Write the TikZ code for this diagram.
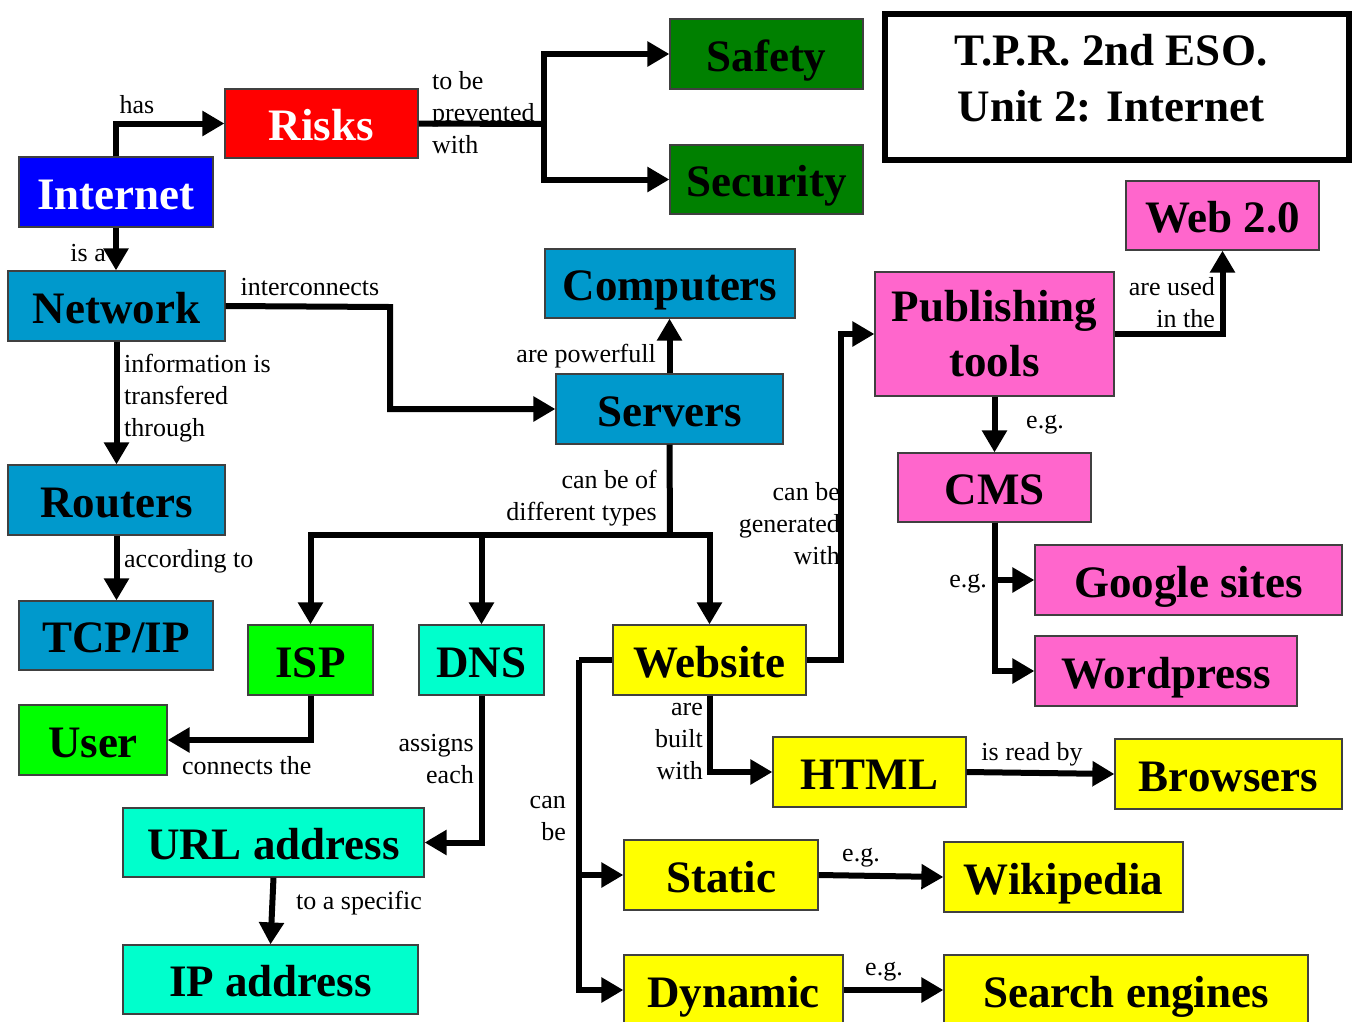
\documentclass[tikz,border=0pt]{standalone}
\usepackage{fontspec}
\setmainfont{Liberation Serif}
\usetikzlibrary{arrows.meta}
\definecolor{cBlue}{RGB}{0,0,255}
\definecolor{cRed}{RGB}{255,0,0}
\definecolor{cDkGreen}{RGB}{0,128,0}
\definecolor{cSea}{RGB}{0,153,204}
\definecolor{cPink}{RGB}{255,102,204}
\definecolor{cGreen}{RGB}{0,255,0}
\definecolor{cAqua}{RGB}{0,255,204}
\definecolor{cYellow}{RGB}{255,255,0}
\tikzset{
  boxbase/.style={draw=black!75, line width=1.2pt, inner sep=0pt, align=center,
    font=\bfseries\fontsize{45}{55}\selectfont},
  box/.style={boxbase, text height=34pt, text depth=0pt},
  lbl/.style={inner sep=0pt, yshift=-2pt, font=\fontsize{26}{32}\selectfont},
  link/.style={line width=6pt},
  arrow/.style={line width=6pt, -{Triangle[length=22pt,width=24pt]}}
}
\begin{document}
\begin{tikzpicture}[x=1pt,y=-1pt]
\useasboundingbox (0,0) rectangle (1359,1021);

% concept boxes
\node[box, fill=cBlue, text=white, minimum width=194pt, minimum height=70pt] (internet) at (116,192) {Internet};
\node[box, fill=cRed, text=white, minimum width=193pt, minimum height=69pt] (risks) at (321.5,123.5) {Risks};
\node[box, fill=cDkGreen, minimum width=193pt, minimum height=70pt] (safety) at (766.5,54) {Safety};
\node[box, fill=cDkGreen, minimum width=193pt, minimum height=69pt] (security) at (766.5,179.5) {Security};
\node[draw=black, line width=6pt, minimum width=464pt, minimum height=146pt] (title) at (1117,87) {};
\node[inner sep=0pt, align=center, font=\bfseries\fontsize{45}{56}\selectfont] (titletext) at (1111,78) {T.P.R. 2nd ESO.\\Unit 2: Internet};
\node[box, fill=cPink, minimum width=193pt, minimum height=69pt] (web) at (1222.5,215.5) {Web 2.0};
\node[box, fill=cSea, minimum width=217pt, minimum height=70pt] (network) at (116.5,306) {Network};
\node[box, fill=cSea, minimum width=250pt, minimum height=69pt] (computers) at (670,283.5) {Computers};
\node[boxbase, fill=cPink, minimum width=239pt, minimum height=124pt] (pub) at (994.5,334) {Publishing\\tools};
\node[box, fill=cSea, minimum width=227pt, minimum height=70pt] (servers) at (669.5,409) {Servers};
\node[box, fill=cPink, minimum width=193pt, minimum height=69pt] (cms) at (994.5,487.5) {CMS};
\node[box, fill=cSea, minimum width=217pt, minimum height=70pt] (routers) at (116.5,500) {Routers};
\node[box, fill=cSea, minimum width=194pt, minimum height=69pt] (tcp) at (116,635.5) {TCP/IP};
\node[box, fill=cGreen, minimum width=125pt, minimum height=70pt] (isp) at (310.5,660) {ISP};
\node[box, fill=cAqua, minimum width=125pt, minimum height=70pt] (dns) at (481.5,660) {DNS};
\node[box, fill=cYellow, minimum width=193pt, minimum height=70pt] (website) at (709.5,660) {Website};
\node[box, fill=cPink, minimum width=307pt, minimum height=70pt] (google) at (1188.5,580) {Google sites};
\node[box, fill=cPink, minimum width=262pt, minimum height=70pt] (wordpress) at (1166,671) {Wordpress};
\node[box, fill=cGreen, minimum width=148pt, minimum height=70pt] (user) at (93,740) {User};
\node[box, fill=cYellow, minimum width=193pt, minimum height=70pt] (html) at (869.5,772) {HTML};
\node[box, fill=cYellow, minimum width=227pt, minimum height=70pt] (browsers) at (1228.5,774) {Browsers};
\node[box, fill=cAqua, minimum width=301pt, minimum height=69pt] (url) at (273.5,842.5) {URL address};
\node[box, fill=cYellow, minimum width=194pt, minimum height=70pt] (static) at (721,875) {Static};
\node[box, fill=cYellow, minimum width=239pt, minimum height=70pt] (wiki) at (1063.5,877) {Wikipedia};
\node[box, fill=cAqua, minimum width=295pt, minimum height=69pt] (ip) at (270.5,979.5) {IP address};
\node[box, fill=cYellow, minimum width=219pt, minimum height=70pt] (dynamic) at (733.5,990) {Dynamic};
\node[box, fill=cYellow, minimum width=364pt, minimum height=70pt] (search) at (1126,990) {Search engines};

% branch points
\coordinate (rsplit) at (544,124);
\coordinate (nbend) at (390,307);
\coordinate (sbus) at (670,535);
\coordinate (wbend) at (841,660);
\coordinate (wleft) at (579,660);

% connectors
\draw[arrow] (internet.north) |- (risks.west);
\draw[arrow] (internet.south) -- (internet.south |- network.north);
\draw[link] (risks.east) -- (rsplit);
\draw[arrow] (rsplit) |- (safety.west);
\draw[arrow] (rsplit) |- (security.west);
\draw[arrow] (network.east) -- (nbend) |- (servers.west);
\draw[arrow] (network.south) -- (routers.north);
\draw[arrow] (routers.south) -- (routers.south |- tcp.north);
\draw[arrow] (servers.north) -- (servers.north |- computers.south);
\draw[link] (servers.south) -- (sbus);
\draw[arrow] (sbus) -| (isp.north);
\draw[arrow] (sbus) -| (dns.north);
\draw[arrow] (sbus) -| (website.north);
\draw[arrow] (website.east) -- (wbend) |- (pub.west);
\draw[arrow] (pub.east) -| (web.south);
\draw[arrow] (pub.south) -- (cms.north);
\draw[arrow] (cms.south) |- (google.west);
\draw[arrow] (cms.south) |- (wordpress.west);
\draw[arrow] (isp.south) |- (user.east);
\draw[arrow] (dns.south) |- (url.east);
\draw[arrow] (url.south) -- (ip.north);
\draw[link] (website.west) -- (wleft);
\draw[arrow] (wleft) |- (static.west);
\draw[arrow] (wleft) |- (dynamic.west);
\draw[arrow] (website.south) |- (html.west);
\draw[arrow] (html.east) -- (browsers.west);
\draw[arrow] (static.east) -- (wiki.west);
\draw[arrow] (dynamic.east) -- (search.west);

% link phrases
\node[lbl] (l1) at (137,103) {has};
\node[lbl, anchor=east] (l2) at (106,251) {is a};
\node[lbl, anchor=west, align=left] (l3) at (432,111) {to be\\prevented\\with};
\node[lbl] (l4) at (310,285) {interconnects};
\node[lbl, anchor=west, align=left] (l5) at (124,396) {information is\\transfered\\through};
\node[lbl, anchor=west] (l6) at (124,559) {according to};
\node[lbl, anchor=east] (l7) at (656,354) {are powerfull};
\node[lbl, anchor=east, align=right] (l8) at (657,496) {can be of\\different types};
\node[lbl, anchor=east, align=right] (l9) at (840,522) {can be\\generated\\with};
\node[lbl, anchor=east, align=right] (l10) at (1215,301) {are used\\in the};
\node[lbl] (l11) at (1045,423) {e.g.};
\node[lbl, anchor=east] (l12) at (987,582) {e.g.};
\node[lbl, anchor=west] (l13) at (182,764) {connects the};
\node[lbl, anchor=east, align=right] (l14) at (474,757) {assigns\\each};
\node[lbl, anchor=west] (l15) at (296,901) {to a specific};
\node[lbl, anchor=east, align=right] (l16) at (566,816) {can\\be};
\node[lbl, anchor=east, align=right] (l17) at (703,739) {are\\built\\with};
\node[lbl] (l18) at (1032,752) {is read by};
\node[lbl] (l19) at (861,856) {e.g.};
\node[lbl] (l20) at (884,970) {e.g.};
\end{tikzpicture}
\end{document}
